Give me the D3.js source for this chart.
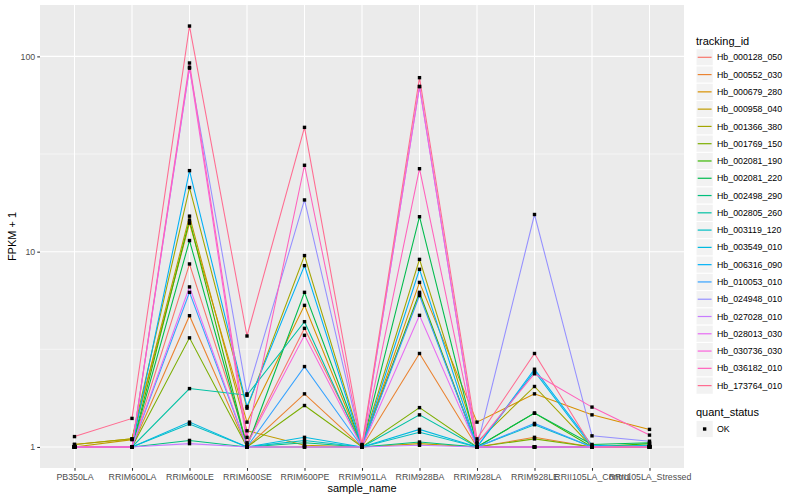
<!DOCTYPE html>
<html>
<head>
<meta charset="utf-8">
<style>
body { margin: 0; background: #fff; }
text { font-family: "Liberation Sans", Arial, sans-serif; }
</style>
</head>
<body>
<script src="https://d3js.org/d3.v7.min.js"></script>
<script>
// x categories
var samples = ["PB350LA", "RRIM600LA", "RRIM600LE", "RRIM600SE", "RRIM600PE", "RRIM901LA",
               "RRIM928BA", "RRIM928LA", "RRIM928LE", "RRII105LA_Control", "RRII105LA_Stressed"];

var trackingIds = ["Hb_000128_050", "Hb_000552_030", "Hb_000679_280", "Hb_000958_040", "Hb_001366_380",
                   "Hb_001769_150", "Hb_002081_190", "Hb_002081_220", "Hb_002498_290", "Hb_002805_260",
                   "Hb_003119_120", "Hb_003549_010", "Hb_006316_090", "Hb_010053_010", "Hb_024948_010",
                   "Hb_027028_010", "Hb_028013_030", "Hb_030736_030", "Hb_036182_010", "Hb_173764_010"];

// ggplot hue palette, 20 levels
var palette = ["#F8766D", "#EA8331", "#D89000", "#C09B00", "#A3A500", "#7CAE00", "#39B600", "#00BB4E",
               "#00BF7D", "#00C1A3", "#00BFC4", "#00BAE0", "#00B0F6", "#35A2FF", "#9590FF", "#C77CFF",
               "#E76BF3", "#FA62DB", "#FF62BC", "#FF6C91"];

// FPKM + 1 per sample, one array per tracking id
var hb_000128_050 = [1.00, 1.00, 8.65, 1.05, 4.05, 1.02, 6.07, 1.00, 1.00, 1.00, 1.00];
var hb_000552_030 = [1.00, 1.00, 4.70, 1.00, 1.87, 1.00, 3.01, 1.00, 1.12, 1.00, 1.02];
var hb_000679_280 = [1.03, 1.10, 14.0, 1.34, 5.31, 1.00, 6.96, 1.34, 1.87, 1.46, 1.23];
var hb_000958_040 = [1.00, 1.09, 15.2, 1.21, 1.02, 1.00, 1.04, 1.00, 1.00, 1.00, 1.00];
var hb_001366_380 = [1.03, 1.10, 21.3, 1.58, 9.55, 1.02, 9.13, 1.06, 2.04, 1.00, 1.00];
var hb_001769_150 = [1.00, 1.00, 3.62, 1.00, 1.63, 1.00, 1.59, 1.00, 1.10, 1.00, 1.00];
var hb_002081_190 = [1.00, 1.00, 14.5, 1.00, 1.00, 1.00, 6.19, 1.00, 1.49, 1.00, 1.04];
var hb_002081_220 = [1.00, 1.00, 11.4, 1.00, 6.19, 1.01, 15.1, 1.00, 1.49, 1.03, 1.05];
var hb_002498_290 = [1.00, 1.00, 1.08, 1.00, 1.05, 1.00, 1.06, 1.00, 1.00, 1.00, 1.00];
var hb_002805_260 = [1.00, 1.00, 1.99, 1.84, 4.38, 1.00, 1.46, 1.00, 1.00, 1.00, 1.00];
var hb_003119_120 = [1.00, 1.00, 1.31, 1.00, 1.08, 1.00, 1.19, 1.00, 1.30, 1.00, 1.00];
var hb_003549_010 = [1.00, 1.00, 1.34, 1.00, 1.12, 1.00, 1.23, 1.00, 2.44, 1.00, 1.02];
var hb_006316_090 = [1.00, 1.00, 26.0, 1.61, 8.48, 1.00, 8.12, 1.00, 2.50, 1.02, 1.00];
var hb_010053_010 = [1.00, 1.00, 6.19, 1.00, 2.58, 1.00, 5.96, 1.00, 1.32, 1.00, 1.00];
var hb_024948_010 = [1.00, 1.00, 87.0, 1.87, 18.4, 1.00, 70.0, 1.00, 15.5, 1.14, 1.07];
var hb_027028_010 = [1.00, 1.00, 1.04, 1.00, 1.00, 1.00, 1.02, 1.00, 1.00, 1.00, 1.00];
var hb_028013_030 = [1.00, 1.00, 6.60, 1.00, 1.00, 1.00, 4.72, 1.00, 1.00, 1.00, 1.00];
var hb_030736_030 = [1.00, 1.00, 88.0, 1.03, 3.73, 1.00, 70.2, 1.00, 1.00, 1.00, 1.00];
var hb_036182_010 = [1.00, 1.00, 92.5, 1.12, 27.7, 1.00, 26.6, 1.04, 2.37, 1.60, 1.15];
var hb_173764_010 = [1.13, 1.40, 143.0, 3.70, 43.3, 1.03, 77.8, 1.10, 3.01, 1.00, 1.00];

var seriesValues = [hb_000128_050, hb_000552_030, hb_000679_280, hb_000958_040, hb_001366_380,
                    hb_001769_150, hb_002081_190, hb_002081_220, hb_002498_290, hb_002805_260,
                    hb_003119_120, hb_003549_010, hb_006316_090, hb_010053_010, hb_024948_010,
                    hb_027028_010, hb_028013_030, hb_030736_030, hb_036182_010, hb_173764_010];

var yTicks = [1, 10, 100];
var yMinor = [Math.pow(10, 0.5), Math.pow(10, 1.5)];

var width = 800, height = 500;
var panel = {left: 40, right: 684, top: 5, bottom: 468};

var svg = d3.select("body").append("svg")
    .attr("width", width)
    .attr("height", height);

svg.append("rect").attr("width", width).attr("height", height).attr("fill", "#fff");

// build series objects
var series = trackingIds.map(function(id, i) {
  return {id: id, color: palette[i], values: seriesValues[i].map(function(v, j) {
    return {sample: samples[j], value: v};
  })};
});

// log y with ggplot-like 5% expansion
var allVals = d3.merge(seriesValues);
var lo = Math.log10(d3.min(allVals)), hi = Math.log10(d3.max(allVals));
var pad = (hi - lo) * 0.05;

var x = d3.scalePoint().domain(samples).range([panel.left, panel.right]).padding(0.6);
var y = d3.scaleLog().domain([Math.pow(10, lo - pad), Math.pow(10, hi + pad)])
    .range([panel.bottom, panel.top]);

// panel
svg.append("rect")
    .attr("x", panel.left).attr("y", panel.top)
    .attr("width", panel.right - panel.left).attr("height", panel.bottom - panel.top)
    .attr("fill", "#EBEBEB");

var grid = svg.append("g");
grid.selectAll(".minor").data(yMinor).enter().append("line")
    .attr("x1", panel.left).attr("x2", panel.right)
    .attr("y1", d => y(d)).attr("y2", d => y(d))
    .attr("stroke", "#fff").attr("stroke-width", 0.53);
grid.selectAll(".majy").data(yTicks).enter().append("line")
    .attr("x1", panel.left).attr("x2", panel.right)
    .attr("y1", d => y(d)).attr("y2", d => y(d))
    .attr("stroke", "#fff").attr("stroke-width", 1.07);
grid.selectAll(".majx").data(samples).enter().append("line")
    .attr("x1", d => x(d)).attr("x2", d => x(d))
    .attr("y1", panel.top).attr("y2", panel.bottom)
    .attr("stroke", "#fff").attr("stroke-width", 1.07);

// lines
var line = d3.line().x(d => x(d.sample)).y(d => y(d.value));
svg.append("g").selectAll("path").data(series).enter().append("path")
    .attr("d", d => line(d.values))
    .attr("fill", "none")
    .attr("stroke", d => d.color)
    .attr("stroke-width", 1.07);

// points
var pts = d3.merge(series.map(s => s.values));
var ps = 3.4;
svg.append("g").selectAll("rect").data(pts).enter().append("rect")
    .attr("x", d => x(d.sample) - ps / 2)
    .attr("y", d => y(d.value) - ps / 2)
    .attr("width", ps).attr("height", ps)
    .attr("fill", "#000");

// axes
var yAxis = svg.append("g")
    .attr("transform", "translate(" + panel.left + ",0)")
    .call(d3.axisLeft(y).tickValues(yTicks).tickFormat(d3.format("d")).tickSize(2.75).tickPadding(2));
var xAxis = svg.append("g")
    .attr("transform", "translate(0," + panel.bottom + ")")
    .call(d3.axisBottom(x).tickSize(2.75).tickPadding(3));
[xAxis, yAxis].forEach(function(a) {
  a.select(".domain").remove();
  a.selectAll(".tick line").attr("stroke", "#333333").attr("stroke-width", 1.07);
  a.selectAll(".tick text").attr("fill", "#4D4D4D").style("font-size", "8.8px")
    .style("font-family", "'Liberation Sans', Arial, sans-serif");
});

svg.append("text")
    .attr("x", (panel.left + panel.right) / 2).attr("y", 488).attr("dy", "0.35em")
    .attr("text-anchor", "middle").style("font-size", "11px").text("sample_name");
svg.append("text")
    .attr("transform", "translate(12," + (panel.top + panel.bottom) / 2 + ") rotate(-90)")
    .attr("dy", "0.35em")
    .attr("text-anchor", "middle").style("font-size", "11px").text("FPKM + 1");

// legend: tracking_id
var lg = svg.append("g");
var keyX = 696, keySize = 17.28, row0 = 57.3;
lg.append("text").attr("x", keyX).attr("y", 40.7).attr("dy", "0.35em")
    .style("font-size", "11px").text("tracking_id");
var items = lg.selectAll(".item").data(series).enter().append("g")
    .attr("transform", (d, i) => "translate(" + keyX + "," + (row0 + i * keySize) + ")");
items.append("rect").attr("x", 0).attr("y", -keySize / 2)
    .attr("width", keySize).attr("height", keySize)
    .attr("fill", "#F2F2F2").attr("stroke", "#fff").attr("stroke-width", 1);
items.append("line").attr("x1", 1.7).attr("x2", keySize - 1.7).attr("y1", 0).attr("y2", 0)
    .attr("stroke", d => d.color).attr("stroke-width", 1.2);
items.append("text").attr("x", 21).attr("dy", "0.35em")
    .style("font-size", "8.8px").text(d => d.id);

// legend: quant_status
lg.append("text").attr("x", keyX).attr("y", 412.3).attr("dy", "0.35em")
    .style("font-size", "11px").text("quant_status");
var q = lg.append("g").attr("transform", "translate(" + keyX + ",429)");
q.append("rect").attr("x", 0).attr("y", -keySize / 2)
    .attr("width", keySize).attr("height", keySize)
    .attr("fill", "#F2F2F2").attr("stroke", "#fff");
q.append("rect").attr("x", keySize / 2 - ps / 2).attr("y", -ps / 2)
    .attr("width", ps).attr("height", ps).attr("fill", "#000");
q.append("text").attr("x", 21).attr("dy", "0.35em").style("font-size", "8.8px").text("OK");
</script>
</body>
</html>
